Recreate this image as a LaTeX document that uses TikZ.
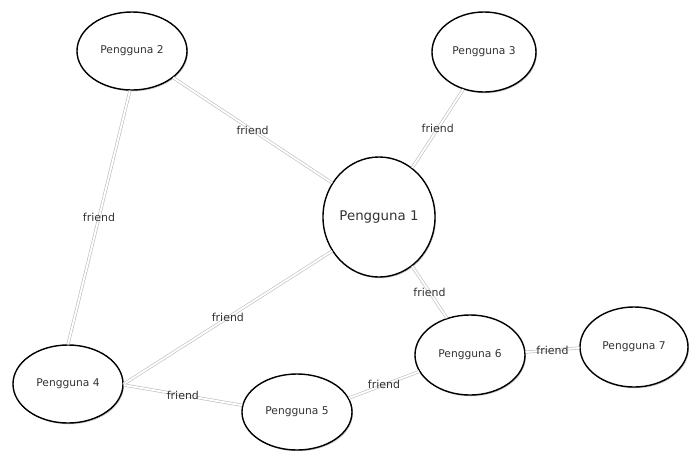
\documentclass[tikz,border=0pt]{standalone}
\usepackage{fontspec}
\setmainfont{DejaVu Sans}
\usepackage{tikz}
\usetikzlibrary{shapes.geometric, shadows}
\definecolor{inkgray}{RGB}{51, 51, 51}
\definecolor{linkgray}{RGB}{190, 190, 190}
\tikzset{
  userblock/.style={
    ellipse, draw=black, fill=white, line width=1pt,
    minimum width=2.75cm, minimum height=1.95cm,
    inner sep=0pt, text=inkgray, font=\fontsize{7.6}{9}\selectfont,
    drop shadow={shadow xshift=0.7pt, shadow yshift=-0.9pt, opacity=0.3, fill=black!70}
  },
  mainblock/.style={userblock, minimum width=2.8cm, minimum height=3.0cm,
    font=\fontsize{9.5}{11}\selectfont},
  friendline/.style={
    draw=linkgray, double=white, double distance=1.3pt, line width=0.45pt
  },
  friendlabel/.style={midway, inner sep=0pt, text=inkgray, font=\fontsize{7.8}{9}\selectfont}
}
\begin{document}
\begin{tikzpicture}[x=0.025cm, y=-0.025cm]
  \useasboundingbox (0,0) rectangle (698,450);

  % Users
  \node[mainblock] (p1) at (379,217) {Pengguna 1};
  \node[userblock] (p2) at (132,51) {Pengguna 2};
  \node[userblock, minimum width=2.6cm, minimum height=2.0cm] (p3) at (484,52) {Pengguna 3};
  \node[userblock] (p4) at (68,384) {Pengguna 4};
  \node[userblock, minimum height=1.9cm] (p5) at (297,412) {Pengguna 5};
  \node[userblock, minimum height=2.0cm] (p6) at (470,355) {Pengguna 6};
  \node[userblock, minimum width=2.7cm, minimum height=2.0cm] (p7) at (634,347) {Pengguna 7};

  % Friendships
  \draw[friendline] (p2.-33) -- node[friendlabel] {friend} (p1.144);
  \draw[friendline] (p3.241) -- node[friendlabel] {friend} (p1.56);
  \draw[friendline] (p2.-93) -- node[friendlabel] {friend} (p4.90);
  \draw[friendline] (p1.216) -- node[friendlabel] {friend} (p4.0);
  \draw[friendline] (p1.-56) -- node[friendlabel] {friend} (p6.122);
  \draw[friendline] (p4.-1) -- node[friendlabel] {friend} (p5.173);
  \draw[friendline] (p5.15) -- node[friendlabel] {friend} (p6.198);
  \draw[friendline] (p6.3) -- node[friendlabel] {friend} (p7.181);

\end{tikzpicture}
\end{document}
